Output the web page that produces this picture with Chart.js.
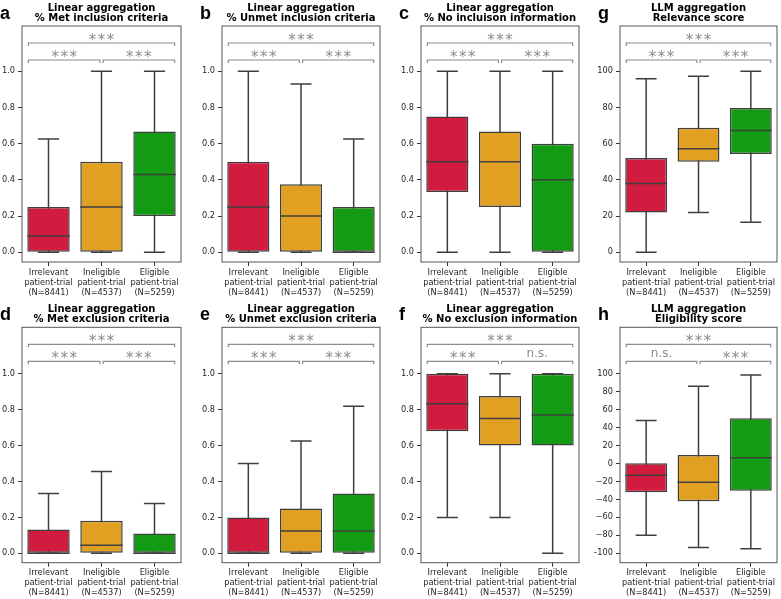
<!DOCTYPE html>
<html>
<head>
<meta charset="utf-8">
<script src="https://cdn.jsdelivr.net/npm/chart.js@4.4.0/dist/chart.umd.min.js"></script>
<style>
  body { margin: 0; width: 781px; height: 599px; overflow: hidden; background: #fff; position: relative; }
  canvas { position: absolute; }
</style>
</head>
<body>
<script>
const groups = [
  ["Irrelevant", "patient-trial", "(N=8441)"],
  ["Ineligible", "patient-trial", "(N=4537)"],
  ["Eligible", "patient-trial", "(N=5259)"]
];
const boxColors = ["#d11c3f", "#e2a023", "#139c13"];

// panels in order a..h
const panelLetters = ["a", "b", "c", "d", "e", "f", "g", "h"];
const panelTitles = [
  ["Linear aggregation", "% Met inclusion criteria"],
  ["Linear aggregation", "% Unmet inclusion criteria"],
  ["Linear aggregation", "% No incluison information"],
  ["Linear aggregation", "% Met exclusion criteria"],
  ["Linear aggregation", "% Unmet exclusion criteria"],
  ["Linear aggregation", "% No exclusion information"],
  ["LLM aggregation", "Relevance score"],
  ["LLM aggregation", "Eligibility score"]
];

// box stats, one row per panel, one value per group
const whiskerLow = [
  [0, 0, 0],
  [0, 0, 0],
  [0, 0, 0],
  [0, 0, 0],
  [0, 0, 0],
  [0.2, 0.2, 0],
  [0, 22, 16.5],
  [-80, -93.5, -95]
];
const q1 = [
  [0, 0, 0.2],
  [0, 0, 0],
  [0.333, 0.25, 0],
  [0, 0, 0],
  [0, 0, 0],
  [0.68, 0.6, 0.6],
  [22, 50, 54.3],
  [-32, -42, -30.3]
];
const medians = [
  [0.09, 0.25, 0.43],
  [0.25, 0.2, 0],
  [0.5, 0.5, 0.4],
  [0, 0.045, 0],
  [0, 0.125, 0.125],
  [0.833, 0.75, 0.77],
  [38, 57.2, 67.2],
  [-13.2, -21, 6.5]
];
const q3 = [
  [0.25, 0.5, 0.667],
  [0.5, 0.375, 0.25],
  [0.75, 0.667, 0.6],
  [0.133, 0.182, 0.111],
  [0.2, 0.25, 0.333],
  [1, 0.875, 1],
  [52, 68.8, 79.7],
  [0.2, 9.5, 50.3]
];
const whiskerHigh = [
  [0.625, 1, 1],
  [1, 0.93, 0.625],
  [1, 1, 1],
  [0.333, 0.455, 0.278],
  [0.5, 0.625, 0.818],
  [1, 1, 1],
  [95.9, 97.2, 100],
  [48, 86, 98.5]
];

// significance: [left pair, right pair, outer pair]
const sigLabels = [
  ["***", "***", "***"],
  ["***", "***", "***"],
  ["***", "***", "***"],
  ["***", "***", "***"],
  ["***", "***", "***"],
  ["***", "n.s.", "***"],
  ["***", "***", "***"],
  ["n.s.", "***", "***"]
];

const fracTicks = [0, 0.2, 0.4, 0.6, 0.8, 1.0];
const relevanceTicks = [0, 20, 40, 60, 80, 100];
const eligibilityTicks = [-100, -80, -60, -40, -20, 0, 20, 40, 60, 80, 100];
const yTicks = [fracTicks, fracTicks, fracTicks, fracTicks, fracTicks, fracTicks, relevanceTicks, eligibilityTicks];

// layout
const gridPos = [[0, 0], [0, 1], [0, 2], [1, 0], [1, 1], [1, 2], [0, 3], [1, 3]];
const frameLeft = [22, 222, 421, 620];
const frameRight = [181, 380, 579, 777];
const rowTop = [0, 300];
const padTop = [26, 27.3];
const padBottom = [2, 1.3];
const yAxisW = 26;
const xAxisH = 36;

function yRange(k, row) {
  if (k === 6) return [-5.4, 125];
  if (k === 7) return [-110.5, 151.7];
  return row === 0 ? [-0.054, 1.25] : [-0.052, 1.258];
}

function fmtTick(k, v) {
  if (k < 6) return v.toFixed(1);
  return v < 0 ? "\u2212" + Math.abs(v) : String(v);
}

function panelPlugin(k) {
  return {
    id: "panel" + k,
    beforeDatasetsDraw(chart) {
      const { ctx } = chart;
      const x = chart.scales.x, y = chart.scales.y;
      const step = x.getPixelForValue(1) - x.getPixelForValue(0);
      ctx.save();
      ctx.strokeStyle = "#3f3f3f";
      ctx.lineWidth = 1.5;
      for (let i = 0; i < 3; i++) {
        const cx = x.getPixelForValue(i);
        const lo = y.getPixelForValue(whiskerLow[k][i]);
        const hi = y.getPixelForValue(whiskerHigh[k][i]);
        ctx.beginPath();
        ctx.moveTo(cx, lo); ctx.lineTo(cx, hi);
        ctx.moveTo(cx - 0.2 * step, lo); ctx.lineTo(cx + 0.2 * step, lo);
        ctx.moveTo(cx - 0.2 * step, hi); ctx.lineTo(cx + 0.2 * step, hi);
        ctx.stroke();
      }
      ctx.restore();
    },
    afterDatasetsDraw(chart) {
      const { ctx, chartArea: a } = chart;
      const x = chart.scales.x, y = chart.scales.y;
      const step = x.getPixelForValue(1) - x.getPixelForValue(0);
      ctx.save();
      // medians
      ctx.strokeStyle = "#3f3f3f";
      ctx.lineWidth = 1.5;
      for (let i = 0; i < 3; i++) {
        const cx = x.getPixelForValue(i);
        const m = y.getPixelForValue(medians[k][i]);
        ctx.beginPath();
        ctx.moveTo(cx - 0.4 * step, m); ctx.lineTo(cx + 0.4 * step, m);
        ctx.stroke();
      }
      // frame
      ctx.strokeStyle = "#555";
      ctx.lineWidth = 1;
      ctx.strokeRect(a.left, a.top, a.right - a.left, a.bottom - a.top);

      // significance brackets
      const spans = [[-0.38, 0.97], [1.03, 2.38], [-0.38, 2.38]];
      const levels = [a.top + 34, a.top + 34, a.top + 17];
      ctx.strokeStyle = "#8c8c8c";
      ctx.fillStyle = "#8c8c8c";
      ctx.lineWidth = 1.2;
      ctx.textAlign = "center";
      ctx.textBaseline = "alphabetic";
      spans.forEach((s, j) => {
        const x0 = x.getPixelForValue(s[0]), x1 = x.getPixelForValue(s[1]);
        const ly = levels[j];
        ctx.beginPath();
        ctx.moveTo(x0, ly + 3); ctx.lineTo(x0, ly); ctx.lineTo(x1, ly); ctx.lineTo(x1, ly + 3);
        ctx.stroke();
        const label = sigLabels[k][j];
        if (label === "n.s.") {
          ctx.letterSpacing = "0px";
          ctx.font = '12px "DejaVu Sans"';
          ctx.fillText(label, (x0 + x1) / 2, ly - 4);
        } else {
          ctx.letterSpacing = "1.5px";
          ctx.font = '15px "DejaVu Sans"';
          ctx.fillText(label, (x0 + x1) / 2 + 0.75, ly + 1.5);
        }
      });
      ctx.letterSpacing = "0px";

      // title and panel letter
      const cx = (a.left + a.right) / 2;
      ctx.fillStyle = "#000";
      ctx.font = 'bold 10px "DejaVu Sans"';
      ctx.fillText(panelTitles[k][0], cx, a.top - 15);
      ctx.fillText(panelTitles[k][1], cx, a.top - 5);
      ctx.textAlign = "left";
      ctx.font = 'bold 18px "Liberation Sans"';
      ctx.fillText(panelLetters[k], 4, a.top - 7);
      ctx.restore();
    }
  };
}

for (let k = 0; k < 8; k++) {
  const [row, col] = gridPos[k];
  const left = frameLeft[col] - yAxisW;
  const width = frameRight[col] - left + 2;
  const canvas = document.createElement("canvas");
  canvas.width = width;
  canvas.height = 300;
  canvas.style.left = left + "px";
  canvas.style.top = rowTop[row] + "px";
  document.body.appendChild(canvas);

  const [ymin, ymax] = yRange(k, row);

  new Chart(canvas, {
    type: "bar",
    data: {
      labels: groups,
      datasets: [{
        data: q1[k].map((v, i) => [v, q3[k][i]]),
        backgroundColor: boxColors,
        borderColor: "#3f3f3f",
        borderWidth: 1.5,
        borderSkipped: false,
        barPercentage: 0.8,
        categoryPercentage: 1
      }]
    },
    options: {
      responsive: false,
      animation: false,
      devicePixelRatio: 1,
      layout: { padding: { left: 0, right: 2, top: padTop[row], bottom: padBottom[row] } },
      plugins: { legend: { display: false }, tooltip: { enabled: false }, title: { display: false } },
      scales: {
        x: {
          type: "category",
          afterFit: (s) => { s.height = xAxisH; },
          ticks: {
            font: { family: "DejaVu Sans", size: 8.2, lineHeight: 1.22 },
            color: "#262626",
            padding: 1.5,
            maxRotation: 0,
            autoSkip: false
          },
          grid: { offset: false, drawOnChartArea: false, tickLength: 4, color: "#333", tickWidth: 1 },
          border: { display: false }
        },
        y: {
          min: ymin,
          max: ymax,
          afterBuildTicks: (s) => { s.ticks = yTicks[k].map((v) => ({ value: v })); },
          afterFit: (s) => { s.width = yAxisW; },
          ticks: {
            font: { family: "DejaVu Sans", size: 8.2 },
            color: "#262626",
            padding: 3,
            callback: (v) => fmtTick(k, v)
          },
          grid: { drawOnChartArea: false, tickLength: 4, color: "#333", tickWidth: 1 },
          border: { display: false }
        }
      }
    },
    plugins: [panelPlugin(k)]
  });
}
</script>
</body>
</html>
